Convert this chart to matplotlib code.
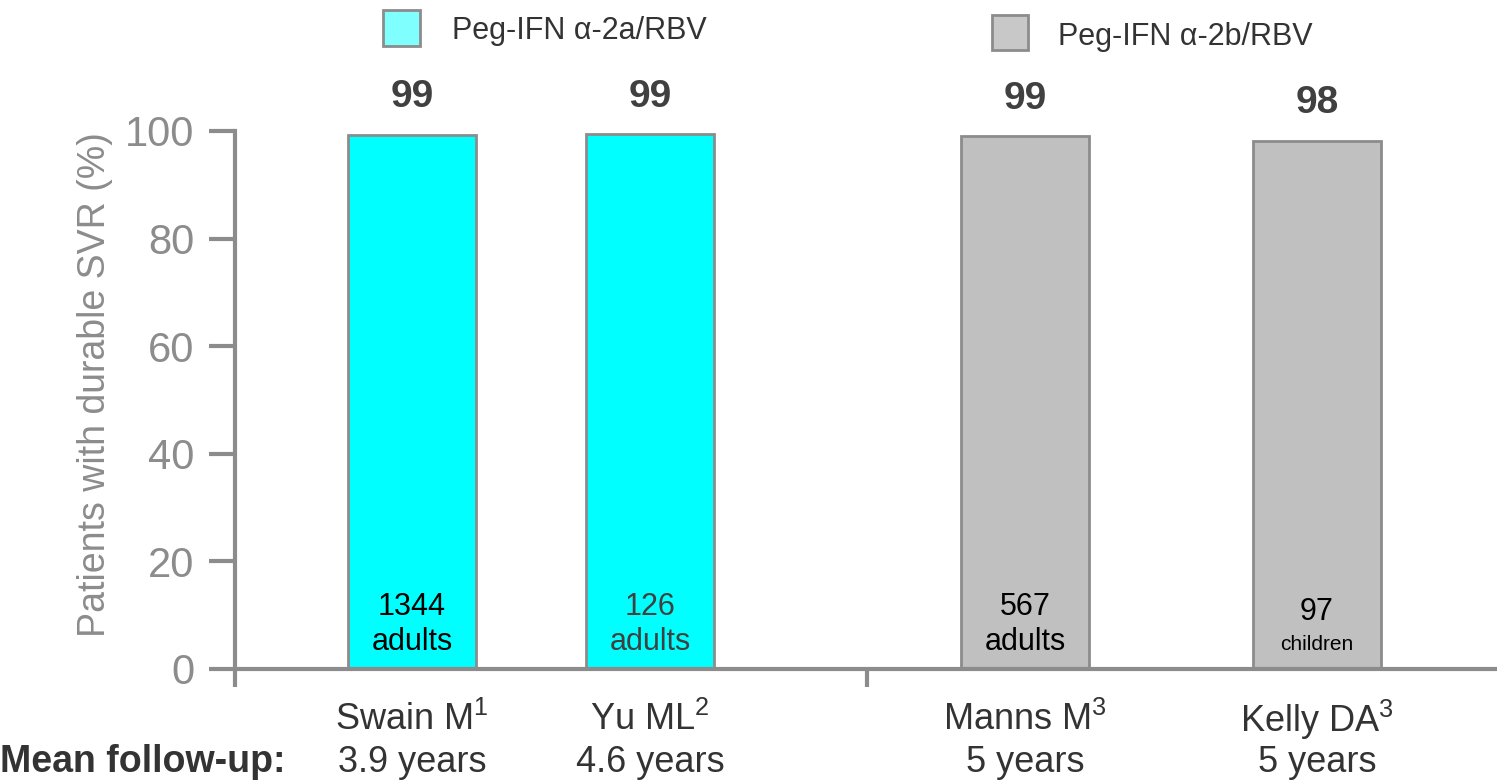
import matplotlib
matplotlib.use('Agg')
import matplotlib.pyplot as plt
from matplotlib.patches import Rectangle

plt.rcParams['font.family'] = ['Liberation Sans', 'DejaVu Sans']
plt.rcParams['mathtext.fontset'] = 'custom'
plt.rcParams['mathtext.rm'] = 'Liberation Sans'
plt.rcParams['mathtext.default'] = 'regular'

# data
studies = ['Swain M$^1$', 'Yu ML$^2$', 'Manns M$^3$', 'Kelly DA$^3$']
followup = ['3.9 years', '4.6 years', '5 years', '5 years']
svr = [99.3, 99.4, 99.0, 98.2]
n_patients = ['1344', '126', '567', '97']
population = ['adults', 'adults', 'adults', 'children']
regimens = ['Peg-IFN α-2a/RBV', 'Peg-IFN α-2b/RBV']
regimen_idx = [0, 0, 1, 1]

# layout (pixel-like x units)
xpos = [412, 650, 1025, 1317]
bar_w = 128
bar_colors = ['#00ffff', '#c0c0c0']
legend_colors = ['#80ffff', '#c8c8c8']
gray = '#8c8c8c'
dark = '#404040'

fig = plt.figure(figsize=(14.97, 7.83), dpi=100)
ax = fig.add_axes([235 / 1497, 114 / 783, 1262 / 1497, 538 / 783])

for iii, val in enumerate(svr):
    ax.bar(xpos[iii], val, width=bar_w, color=bar_colors[regimen_idx[iii]],
           edgecolor=gray, linewidth=2, zorder=2)
    ax.annotate(f'{val:.0f}', (xpos[iii], val), xytext=(0, 14), textcoords='offset points',
                ha='center', va='bottom', fontsize=28, fontweight='bold', color=dark)
    txtcol = dark if iii == 1 else 'black'
    kid = population[iii] == 'children'
    ax.text(xpos[iii], 10.6 if kid else 11.5, n_patients[iii], ha='center', va='center',
            fontsize=22, color=txtcol)
    ax.text(xpos[iii], 4.6 if kid else 5.0, population[iii], ha='center', va='center',
            fontsize=15 if kid else 22, color=txtcol)
    ax.text(xpos[iii], -0.095, studies[iii], ha='center', va='center', fontsize=26,
            color='#333333', transform=ax.get_xaxis_transform())
    ax.text(xpos[iii], -0.173, followup[iii], ha='center', va='center', fontsize=26,
            color='#333333', transform=ax.get_xaxis_transform())

ax.set_xlim(235, 1497)
ax.set_ylim(0, 100)
ax.set_yticks([0, 20, 40, 60, 80, 100])
ax.set_xticks([235, 867])
ax.set_xticklabels([])
ax.tick_params(axis='y', length=19, width=3, color=gray, labelcolor=gray, labelsize=30, pad=10)
ax.tick_params(axis='x', length=13, width=3, color=gray)

for side in ['top', 'right']:
    ax.spines[side].set_visible(False)
for side in ['left', 'bottom']:
    ax.spines[side].set_color(gray)
    ax.spines[side].set_linewidth(3)

ax.set_ylabel('Patients with durable SVR (%)', fontsize=27, color=gray)
ax.yaxis.set_label_coords(-0.097, 0.528)

# legend, drawn by hand at the two group positions
fig.add_artist(Rectangle((383 / 1497, 737 / 783), 37 / 1497, 36 / 783, transform=fig.transFigure,
                         facecolor=legend_colors[0], edgecolor=gray, linewidth=2))
fig.text(452 / 1497, 752 / 783, regimens[0], ha='left', va='center', fontsize=22, color='#333333')
fig.add_artist(Rectangle((992 / 1497, 733 / 783), 36 / 1497, 35 / 783, transform=fig.transFigure,
                         facecolor=legend_colors[1], edgecolor=gray, linewidth=2))
fig.text(1058 / 1497, 746 / 783, regimens[1], ha='left', va='center', fontsize=22, color='#333333')

fig.text(0.0, 21 / 783, 'Mean follow-up:', ha='left', va='center', fontsize=27,
         fontweight='bold', color='#333333')

plt.savefig('out.png', dpi=100)
